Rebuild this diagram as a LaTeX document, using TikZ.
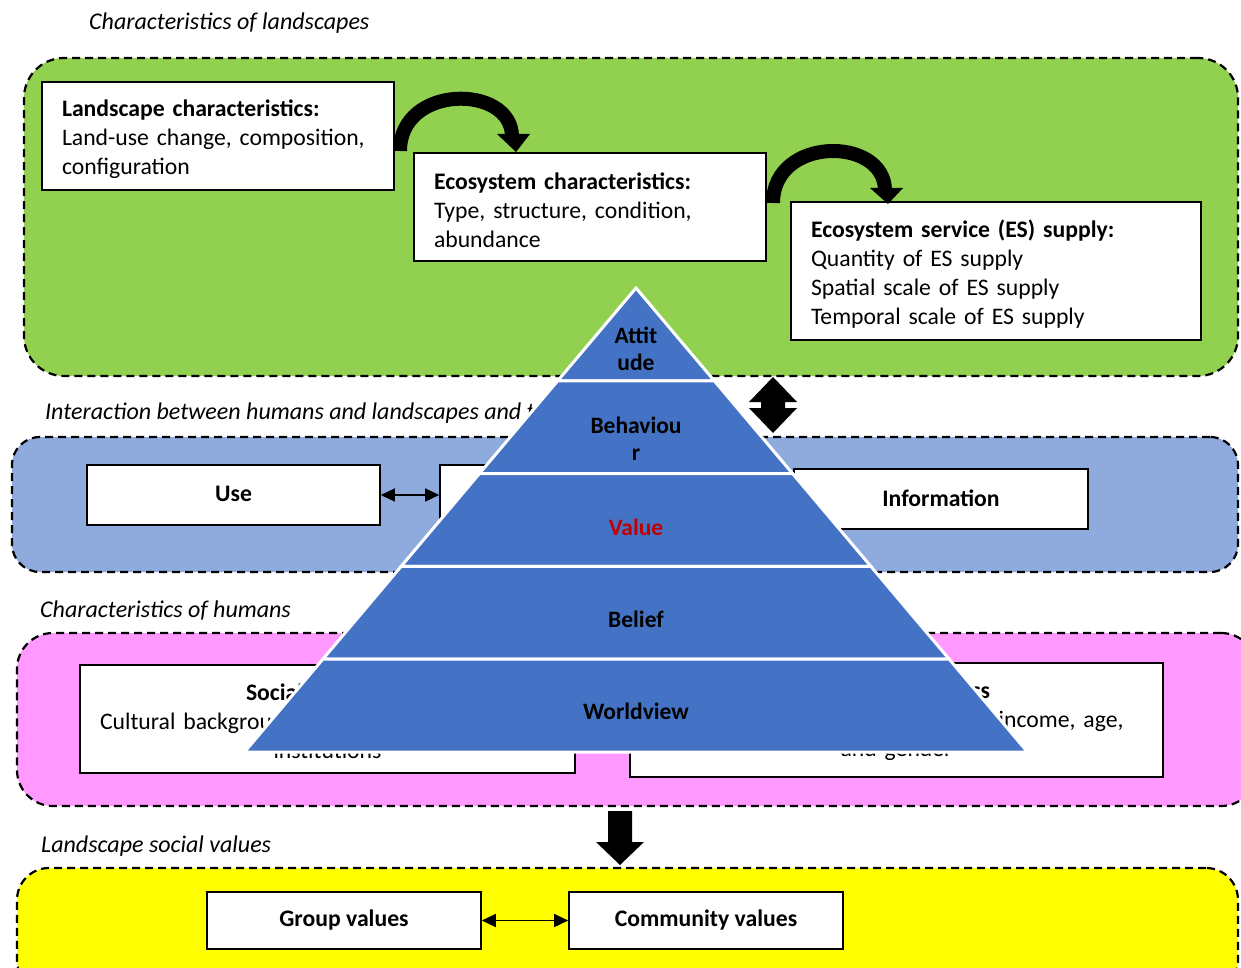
\documentclass[tikz,border=0pt]{standalone}
\usepackage{fontspec}
\setmainfont{Carlito}
\usetikzlibrary{arrows.meta,calc}
\definecolor{lgreen}{HTML}{92D050}
\definecolor{lblue}{HTML}{8FAADC}
\definecolor{lpink}{HTML}{FF99FF}
\definecolor{lyellow}{HTML}{FFFF00}
\definecolor{pblue}{HTML}{4472C4}
\definecolor{dred}{HTML}{C00000}
\begin{document}
\begin{tikzpicture}[x=1pt,y=-1pt,
  region/.style={draw=black,line width=2.2pt,dash pattern=on 8pt off 5pt,rounded corners=#1,inner sep=0pt},
  box/.style={draw=black,line width=1.6pt,fill=white,inner sep=0pt},
  txt/.style={inner sep=0pt,font=\fontsize{23.7}{29}\selectfont},
  sbox/.style={draw=black,line width=1.6pt,fill=white,inner sep=0pt,font=\bfseries\fontsize{23.7}{29}\selectfont},
  ttl/.style={anchor=west,inner sep=0pt,font=\itshape\fontsize{24}{29}\selectfont},
  pyr/.style={fill=pblue,draw=white,line width=3pt,line join=miter},
  plab/.style={align=center,inner sep=0pt,font=\bfseries\fontsize{23.5}{27}\selectfont},
  dbl/.style={line width=1.5pt,{Triangle[length=14pt,width=13pt]}-{Triangle[length=14pt,width=13pt]}}
]
\useasboundingbox (0,0) rectangle (1241,968);
\fill[white] (0,0) rectangle (1241,968);

% ---------- regions ----------
\node[region=40pt,fill=lgreen,minimum width=1214pt,minimum height=318pt] (green) at (631,217) {};
\node[region=28pt,fill=lblue,minimum width=1226pt,minimum height=135pt] (blue) at (625,504.5) {};
\node[region=36pt,fill=lpink,minimum width=1240pt,minimum height=173pt] (pink) at (637,719.5) {};
\node[region=32pt,fill=lyellow,minimum width=1221pt,minimum height=124pt] (yellow) at (627.5,930) {};

% ---------- titles ----------
\node[ttl] (t1) at (89,23) {Characteristics of landscapes};
\node[ttl] (t2) at (45,413) {Interaction between humans and landscapes and their};
\node[ttl] (t3) at (40,611) {Characteristics of humans};
\node[ttl] (t4) at (41,846) {Landscape social values};

% ---------- green boxes ----------
\node[box,minimum width=352pt,minimum height=108pt] (b1) at (218,136) {};
\node[txt,text width=312pt,align=left] (b1t) at ([yshift=-3pt]b1.center)
  {\textbf{Landscape characteristics:}\\Land-use change, composition,\\configuration};
\node[box,minimum width=352pt,minimum height=108pt] (b2) at (590,207) {};
\node[txt,text width=312pt,align=left] (b2t) at ([yshift=-3pt]b2.center)
  {\textbf{Ecosystem characteristics:}\\Type, structure, condition,\\abundance};
\node[box,minimum width=410pt,minimum height=138pt] (b3) at (996,271) {};
\node[txt,text width=370pt,align=left] (b3t) at ([yshift=-3pt]b3.center)
  {\textbf{Ecosystem service (ES) supply:}\\Quantity of ES supply\\Spatial scale of ES supply\\Temporal scale of ES supply};

% curved block arrows
\coordinate (a1s) at (400,151);
\coordinate (a1e) at (512,136);
\draw[line width=14pt] (a1s) .. controls (400,84) and (511,84) .. (a1e);
\fill (497,134) -- (530,134) -- (516,152) -- cycle;
\coordinate (a2s) at (773,203);
\coordinate (a2e) at (885,190);
\draw[line width=14pt] (a2s) .. controls (773,136) and (884,136) .. (a2e);
\fill (870,188) -- (903,188) -- (888,204) -- cycle;

% ---------- blue boxes ----------
\node[sbox,minimum width=293pt,minimum height=60pt] (use) at (233.5,495) {\raisebox{2pt}{Use}};
\node[sbox,minimum width=294pt,minimum height=60pt] (mid) at (587,495) {};
\node[sbox,minimum width=294pt,minimum height=60pt] (info) at (941,499) {\raisebox{2pt}{Information}};
\draw[dbl] (use.east) -- (mid.west);

% double vertical block arrow
\fill (773,377) -- (797,402) -- (785,402) -- (785,408) -- (797,408) -- (773,433)
   -- (749,408) -- (761,408) -- (761,402) -- (749,402) -- cycle;

% ---------- pink boxes ----------
\node[box,minimum width=495pt,minimum height=108pt] (soc) at (327.5,719) {};
\node[txt,text width=495pt,align=center] (soct) at ([yshift=-2pt]soc.center)
  {\makebox[163pt][l]{\textbf{Social characteristics}}\\
   \makebox[455pt][l]{Cultural background, social norms and}\\institutions};
\node[box,minimum width=533pt,minimum height=114pt] (ind) at (896.5,720) {};
\node[txt,text width=533pt,align=center] (indt) at ([yshift=-1pt]ind.center)
  {\makebox[187pt][r]{\textbf{Individual characteristics}}\\
   \makebox[454pt][r]{Education, occupation, income, age,}\\and gender};

% down block arrow
\fill (608,811) -- (632,811) -- (632,842) -- (644,842) -- (620,865) -- (596,842) -- (608,842) -- cycle;

% ---------- yellow boxes ----------
\node[sbox,minimum width=274pt,minimum height=57pt] (grp) at (344,920.5) {Group values};
\node[sbox,minimum width=274pt,minimum height=57pt] (com) at (706,920.5) {Community values};
\draw[dbl] (grp.east) -- (com.west);

% ---------- pyramid ----------
\coordinate (apex) at (636,288);
\coordinate (bl) at (244.5,752);
\coordinate (br) at (1027.5,752);
\foreach \k/\f in {1/0.2,2/0.4,3/0.6,4/0.8}{
  \coordinate (l\k) at ($(apex)!\f!(bl)$);
  \coordinate (r\k) at ($(apex)!\f!(br)$);
}
\filldraw[pyr] (apex) -- (r1) -- (l1) -- cycle;
\filldraw[pyr] (l1) -- (r1) -- (r2) -- (l2) -- cycle;
\filldraw[pyr] (l2) -- (r2) -- (r3) -- (l3) -- cycle;
\filldraw[pyr] (l3) -- (r3) -- (r4) -- (l4) -- cycle;
\filldraw[pyr] (l4) -- (r4) -- (br) -- (bl) -- cycle;

\node[plab] (att) at (636,348.5) {Attit\\ude};
\node[plab] (beh) at (636,438.5) {Behaviou\\r};
\node[plab,text=dred] (val) at (636,527) {Value};
\node[plab] (bel) at (636,619) {Belief};
\node[plab] (wor) at (636,711) {Worldview};
\end{tikzpicture}
\end{document}
